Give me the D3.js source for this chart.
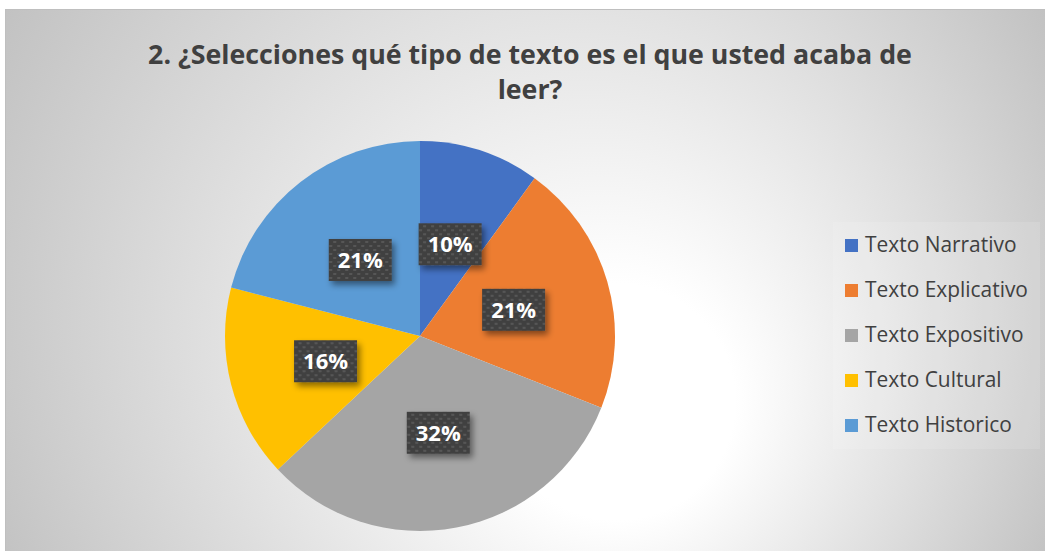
<!DOCTYPE html>
<html><head><meta charset="utf-8">
<script src="https://cdn.jsdelivr.net/npm/d3@7"></script>
<style>
html,body{margin:0;padding:0;background:#fff;}
svg{display:block;}
</style></head>
<body>
<svg id="chart" width="1045" height="551"></svg>
<script>
const categories = ["Texto Narrativo","Texto Explicativo","Texto Expositivo","Texto Cultural","Texto Historico"];
const values = [10, 21, 32, 16, 21];
const colors = ["#4472C4","#ED7D31","#A5A5A5","#FFC000","#5B9BD5"];
const titleLines = ["2. ¿Selecciones qué tipo de texto es el que usted acaba de","leer?"];

const svg = d3.select("#chart");
const W = 1045, H = 551;
const defs = svg.append("defs");

const bg = defs.append("radialGradient").attr("id","bg")
  .attr("gradientUnits","userSpaceOnUse")
  .attr("cx",525).attr("cy",290).attr("r",590)
  .attr("fx",640).attr("fy",430);
bg.append("stop").attr("offset","0").attr("stop-color","#ffffff");
bg.append("stop").attr("offset","0.2").attr("stop-color","#ffffff");
bg.append("stop").attr("offset","1").attr("stop-color","#c2c2c2");

const pat = defs.append("pattern").attr("id","dots")
  .attr("patternUnits","userSpaceOnUse").attr("width",8).attr("height",8);
pat.append("rect").attr("width",8).attr("height",8).attr("fill","#404040");
pat.append("rect").attr("x",1).attr("y",1).attr("width",3).attr("height",2).attr("fill","#575757");
pat.append("rect").attr("x",5).attr("y",5).attr("width",3).attr("height",2).attr("fill","#575757");

const sh = defs.append("filter").attr("id","shadow").attr("x","-30%").attr("y","-30%").attr("width","160%").attr("height","180%");
sh.append("feDropShadow").attr("dx",3).attr("dy",4).attr("stdDeviation",3).attr("flood-color","#000").attr("flood-opacity",0.45);

// background
svg.append("rect").attr("x",5.5).attr("y",9.5).attr("width",W).attr("height",H)
  .attr("fill","url(#bg)").attr("stroke","#bfbfbf").attr("stroke-width",1);

// title
const title = svg.append("g");
const tl = title.selectAll("text").data(titleLines).join("text")
  .attr("x",530).attr("y",(d,i)=>64+i*35)
  .attr("text-anchor","middle")
  .attr("font-family","'Open Sans', 'Liberation Sans', sans-serif")
  .attr("font-weight","bold").attr("font-size",24).attr("fill","#404040")
  .text(d=>d);
{
  const n = tl.nodes()[0];
  const w = n.getComputedTextLength();
  const fs = 24*764/w;
  tl.attr("font-size",fs);
}

// pie
const cx = 420, cy = 336, R = 195;
const pie = d3.pie().sort(null).value(d=>d);
const arcs = pie(values);
const arc = d3.arc().innerRadius(0).outerRadius(R);
const g = svg.append("g").attr("transform",`translate(${cx},${cy})`);
g.selectAll("path").data(arcs).join("path")
  .attr("d",arc).attr("fill",(d,i)=>colors[i]);

// labels
const lab = g.selectAll("g.lab").data(arcs).join("g").attr("class","lab")
  .attr("transform",d=>{const c=arc.centroid(d);return `translate(${c[0]},${c[1]+1})`;});
lab.append("rect").attr("x",-31.5).attr("y",-21).attr("width",63).attr("height",42)
  .attr("fill","url(#dots)").attr("filter","url(#shadow)");
lab.append("text").attr("text-anchor","middle").attr("dy","0.36em")
  .attr("font-family","'Open Sans', 'Liberation Sans', sans-serif")
  .attr("font-weight","bold").attr("font-size",22).attr("fill","#ffffff")
  .text((d,i)=>values[i]+"%");

// legend
const legY = d3.scalePoint().domain(categories).range([245,425]);
svg.append("rect").attr("x",833).attr("y",222).attr("width",207).attr("height",227)
  .attr("fill","#ffffff").attr("fill-opacity",0.12);
const leg = svg.append("g").selectAll("g").data(categories).join("g")
  .attr("transform",d=>`translate(845,${legY(d)})`);
leg.append("rect").attr("x",0).attr("y",-6).attr("width",13).attr("height",13)
  .attr("fill",(d,i)=>colors[i]);
const lt = leg.append("text").attr("x",20).attr("dy","0.35em")
  .attr("font-family","'Open Sans', 'Liberation Sans', sans-serif")
  .attr("font-size",18).attr("fill","#404040").text(d=>d);
{
  const n = lt.nodes()[1];
  const w = n.getComputedTextLength();
  lt.attr("font-size",18*163/w);
}
</script>
</body></html>
